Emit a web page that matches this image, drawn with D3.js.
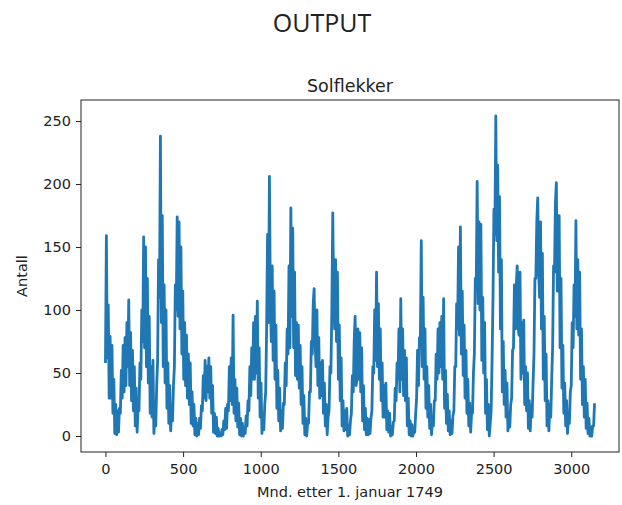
<!DOCTYPE html>
<html>
<head>
<meta charset="utf-8">
<script src="https://cdn.jsdelivr.net/npm/d3@7"></script>
<style>
  body { margin: 0; background: #fff; }
  text { font-family: "DejaVu Sans", sans-serif; fill: #222; }
</style>
</head>
<body>
<div id="chart"></div>
<script>
'use strict';

// solflekker, en verdi hvert halvår fra jan 1749 (lav, høy per år)
var stegMnd = 6;
var antall = [
  58,159, 62,104, 30,79, 30,72, 18,45, 2,25, 1,20, 3,22, 18,52, 30,72,          // 1749-
  35,78, 40,90, 55,108, 40,82, 28,68, 20,55, 8,38, 3,22, 20,58, 45,100,        // 1759-
  75,158, 70,150, 55,125, 42,95, 18,55, 15,60, 2,14, 8,40, 60,140, 110,238,    // 1769-
  90,175, 55,120, 42,100, 22,58, 10,40, 4,20, 12,40, 55,120, 100,174, 95,170,  // 1779-
  85,150, 65,115, 45,90, 40,80, 30,65, 25,58, 10,35, 8,25, 1,14, 0,10,         // 1789-
  1,14, 6,24, 20,48, 30,60, 28,55, 35,62, 30,55, 18,40, 3,18, 2,15,            // 1799-
  0,6, 0,1, 0,5, 1,12, 5,22, 6,25, 20,55, 28,62, 25,96, 18,45,                 // 1809-
  12,38, 7,26, 1,14, 0,10, 0,6, 2,16, 8,28, 20,55, 32,70, 45,90,               // 1819-
  45,95, 50,107, 30,70, 15,42, 2,16, 5,25, 35,85, 160,90, 206,110, 75,135,     // 1829-
  60,115, 45,88, 22,52, 12,38, 4,20, 6,26, 25,58, 40,85, 65,135, 70,181,       // 1839-
  95,165, 70,130, 48,90, 45,88, 38,72, 25,55, 10,32, 1,14, 0,10, 10,35,        // 1848-
  35,75, 65,105, 117,75, 55,100, 40,78, 30,58, 32,60, 18,42, 8,25, 1,15,       // 1858-
  20,55, 50,100, 177,110, 85,140, 75,130, 45,88, 28,62, 8,28, 4,20, 5,22,      // 1868-
  0,8, 1,12, 18,48, 35,75, 95,40, 45,85, 45,82, 35,70, 12,40, 5,22,            // 1878-
  1,14, 1,13, 2,14, 20,55, 50,100, 60,130, 55,105, 45,85, 28,58, 15,40,        // 1888-
  15,42, 5,20, 3,18, 0,7, 1,11, 12,38, 28,58, 45,85, 35,109, 45,85,            // 1898-
  32,68, 28,62, 8,30, 1,12, 0,9, 0,5, 3,18, 30,68, 40,78, 75,155,              // 1908-
  55,110, 45,85, 22,55, 15,40, 6,25, 1,12, 8,28, 28,65, 45,85, 50,90,          // 1918-
  55,95, 45,109, 22,52, 10,33, 4,20, 1,12, 2,16, 20,55, 55,105, 85,150,        // 1928-
  80,166, 65,115, 48,88, 30,68, 18,45, 8,26, 3,18, 18,50, 65,125, 120,202,     // 1938-
  105,170, 100,168, 60,110, 50,90, 18,45, 5,25, 0,10, 20,60, 110,180, 160,254, // 1948-
  155,215, 130,190, 85,140, 35,75, 25,52, 15,42, 4,18, 7,25, 30,68, 70,120,    // 1958-
  85,120, 135,85, 80,130, 45,90, 50,92, 25,55, 20,50, 6,28, 4,24, 15,42,       // 1968-
  65,125, 125,170, 189,130, 110,170, 85,145, 45,95, 28,65, 8,28, 4,25, 15,45,  // 1978-
  70,135, 130,185, 201,115, 115,175, 70,125, 38,72, 18,42, 8,28, 2,16, 10,35,  // 1988-
  40,90, 70,120, 95,171, 85,140, 80,130, 45,85, 25,55, 15,45, 6,26, 2,14,      // 1998-
  0,7, 0,8, 8,26                                                               // 2008-
];

var xTicks = [0, 500, 1000, 1500, 2000, 2500, 3000];
var yTicks = [0, 50, 100, 150, 200, 250];

var tittel = 'OUTPUT';
var diagramTittel = 'Solflekker';
var xTekst = 'Mnd. etter 1. januar 1749';
var yTekst = 'Antall';

var sol = {};

sol.w = 622;
sol.h = 505;
sol.box = {left: 81, right: 619, top: 100, bottom: 452};
sol.farge = '#1f77b4';
sol.xScale = undefined;
sol.yScale = undefined;

sol.lagSvg = function (div)
{
    var svg = d3.select(div).append('svg')
        .attr('width', sol.w)
        .attr('height', sol.h);
    svg.append('rect')
        .attr('width', sol.w)
        .attr('height', sol.h)
        .attr('fill', '#fff');
    return svg;
}

sol.lagSkalaer = function (punkter)
{
    // samme 5% marg som matplotlib
    var xMax = d3.max(punkter, function (d) { return d.m; });
    var yMax = d3.max(punkter, function (d) { return d.v; });
    var xPad = xMax * 0.05, yPad = yMax * 0.05;
    sol.xScale = d3.scaleLinear().domain([-xPad, xMax + xPad]).range([sol.box.left, sol.box.right]);
    sol.yScale = d3.scaleLinear().domain([-yPad, yMax + yPad]).range([sol.box.bottom, sol.box.top]);
}

sol.lagAkser = function (svg)
{
    var xAxis = d3.axisBottom(sol.xScale).tickValues(xTicks).tickFormat(d3.format('d')).tickSize(5).tickPadding(7);
    var yAxis = d3.axisLeft(sol.yScale).tickValues(yTicks).tickFormat(d3.format('d')).tickSize(5).tickPadding(5);

    var gx = svg.append('g')
        .attr('transform', 'translate(0,' + sol.box.bottom + ')')
        .call(xAxis);
    var gy = svg.append('g')
        .attr('transform', 'translate(' + sol.box.left + ',0)')
        .call(yAxis);

    [gx, gy].forEach(function (g) {
        g.select('.domain').remove();
        g.selectAll('line').attr('stroke', '#222');
        g.selectAll('text')
            .style('font-family', '"DejaVu Sans", sans-serif')
            .style('font-size', '14.5px')
            .attr('fill', '#222');
    });
}

sol.lagLinje = function (svg, punkter)
{
    var line = d3.line()
        .x(function (d) { return sol.xScale(d.m); })
        .y(function (d) { return sol.yScale(d.v); });

    svg.append('path')
        .attr('d', line(punkter))
        .attr('fill', 'none')
        .attr('stroke', sol.farge)
        .attr('stroke-width', 2.8)
        .attr('stroke-linejoin', 'round');
}

sol.lagRamme = function (svg)
{
    svg.append('rect')
        .attr('x', sol.box.left)
        .attr('y', sol.box.top)
        .attr('width', sol.box.right - sol.box.left)
        .attr('height', sol.box.bottom - sol.box.top)
        .attr('fill', 'none')
        .attr('stroke', '#222')
        .attr('stroke-width', 1);
}

sol.lagTekster = function (svg)
{
    var midt = (sol.box.left + sol.box.right) / 2;

    svg.append('text')
        .attr('x', 322)
        .attr('y', 32)
        .attr('text-anchor', 'middle')
        .style('font-family', '"Open Sans", sans-serif')
        .style('font-size', '25px')
        .text(tittel);

    svg.append('text')
        .attr('x', midt)
        .attr('y', 92)
        .attr('text-anchor', 'middle')
        .style('font-size', '17.5px')
        .text(diagramTittel);

    svg.append('text')
        .attr('x', midt)
        .attr('y', 497)
        .attr('text-anchor', 'middle')
        .style('font-size', '14.5px')
        .text(xTekst);

    svg.append('text')
        .attr('transform', 'translate(27,' + ((sol.box.top + sol.box.bottom) / 2) + ') rotate(-90)')
        .attr('text-anchor', 'middle')
        .style('font-size', '14.5px')
        .text(yTekst);
}

function solflekker(div)
{
    var punkter = antall.map(function (v, i) { return {m: i * stegMnd, v: v}; });
    var svg = sol.lagSvg(div);
    sol.lagSkalaer(punkter);
    sol.lagLinje(svg, punkter);
    sol.lagRamme(svg);
    sol.lagAkser(svg);
    sol.lagTekster(svg);
}

solflekker('#chart');
</script>
</body>
</html>
